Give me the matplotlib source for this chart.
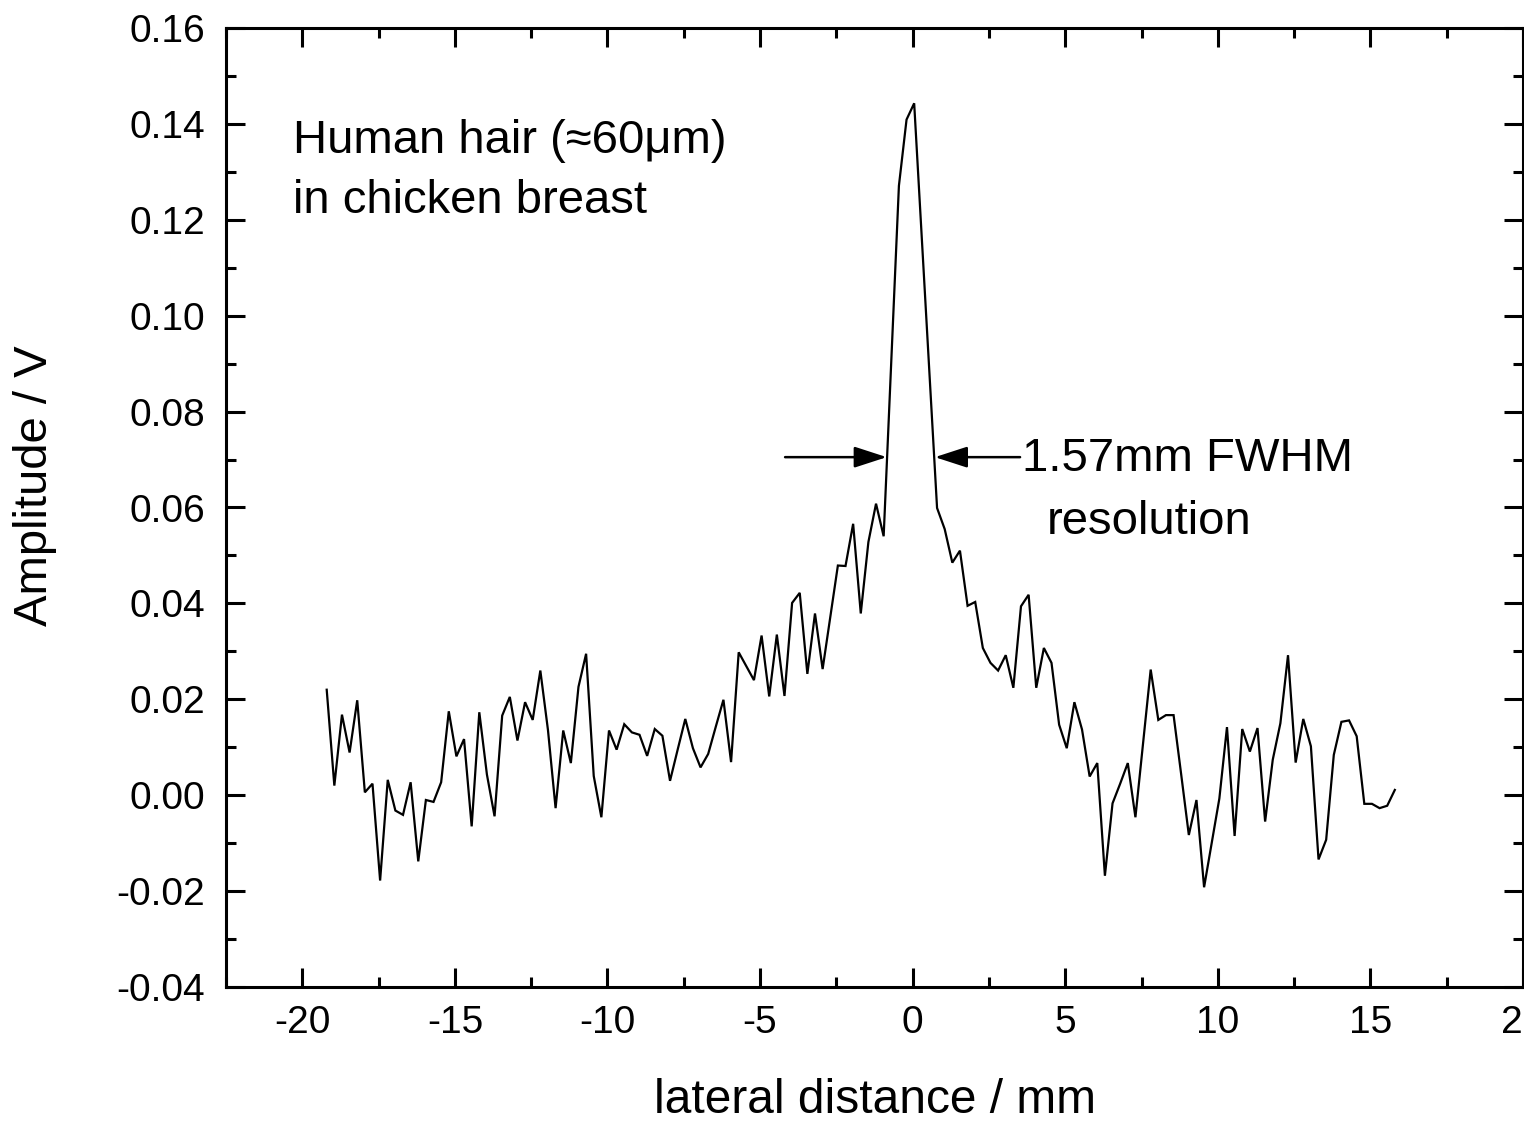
import numpy as np
import matplotlib
matplotlib.use("Agg")
import matplotlib.pyplot as plt
from matplotlib.ticker import MultipleLocator
from matplotlib.patches import Rectangle

plt.rcParams['font.family'] = ['Liberation Sans', 'DejaVu Sans']

# ---- data ----
x_start = -19.2
x_step = 0.25
amplitude = [
    0.0220, 0.0020, 0.0168, 0.0089, 0.0198, 0.0006, 0.0024, -0.0178, 0.0032, -0.0032,
    -0.0041, 0.0027, -0.0138, -0.0010, -0.0014, 0.0027, 0.0175, 0.0081, 0.0117, -0.0065,
    0.0173, 0.0043, -0.0044, 0.0166, 0.0205, 0.0114, 0.0194, 0.0157, 0.0260, 0.0136,
    -0.0027, 0.0135, 0.0067, 0.0226, 0.0295, 0.0040, -0.0046, 0.0135, 0.0095, 0.0148,
    0.0131, 0.0126, 0.0082, 0.0138, 0.0124, 0.0030, 0.0095, 0.0159, 0.0098, 0.0058,
    0.0086, 0.0143, 0.0199, 0.0069, 0.0298, 0.0269, 0.0240, 0.0333, 0.0206, 0.0335,
    0.0207, 0.0401, 0.0422, 0.0253, 0.0379, 0.0263, 0.0371, 0.0479, 0.0478, 0.0566,
    0.0379, 0.0528, 0.0608, 0.0540, 0.0905, 0.1271, 0.1409, 0.1443, 0.1162, 0.0881,
    0.0599, 0.0555, 0.0485, 0.0510, 0.0395, 0.0403, 0.0307, 0.0276, 0.0260, 0.0292,
    0.0224, 0.0394, 0.0418, 0.0224, 0.0307, 0.0276, 0.0147, 0.0098, 0.0194, 0.0137,
    0.0039, 0.0067, -0.0168, -0.0017, 0.0024, 0.0067, -0.0046, 0.0108, 0.0262, 0.0157,
    0.0167, 0.0167, 0.0043, -0.0083, -0.0010, -0.0192, -0.0100, -0.0007, 0.0142, -0.0085,
    0.0138, 0.0091, 0.0140, -0.0055, 0.0074, 0.0150, 0.0292, 0.0068, 0.0159, 0.0102,
    -0.0134, -0.0093, 0.0084, 0.0153, 0.0156, 0.0123, -0.0018, -0.0018, -0.0027, -0.0022,
    0.0011,
]
x_values = x_start + x_step * np.arange(len(amplitude))

x_ticks = [-20, -15, -10, -5, 0, 5, 10, 15, 20]
x_tick_labels = ['-20', '-15', '-10', '-5', '0', '5', '10', '15', '20']
y_ticks = [-0.04, -0.02, 0.00, 0.02, 0.04, 0.06, 0.08, 0.10, 0.12, 0.14, 0.16]
y_tick_labels = ['-0.04', '-0.02', '0.00', '0.02', '0.04', '0.06', '0.08',
                 '0.10', '0.12', '0.14', '0.16']

x_label = 'lateral distance / mm'
y_label = 'Amplitude / V'
sample_text = ['Human hair (\u224860\u03bcm)', 'in chicken breast']
fwhm_text = ['1.57mm FWHM', 'resolution']
fwhm_left = -0.85
fwhm_right = 0.73
fwhm_level = 0.0705

# ---- figure ----
W, H = 1536, 1125
fig = plt.figure(figsize=(W / 100, H / 100), dpi=100)
ax = fig.add_axes([226 / W, 1 - 987 / H, (1523 - 226) / W, (987 - 28) / H])

ax.plot(x_values, amplitude, color='black', lw=1.6, solid_joinstyle='miter')

ax.set_xlim(-22.5, 20)
ax.set_ylim(-0.04, 0.16)
ax.set_xticks(x_ticks)
ax.set_xticklabels(x_tick_labels)
ax.set_yticks(y_ticks)
ax.set_yticklabels(y_tick_labels)
ax.xaxis.set_minor_locator(MultipleLocator(2.5))
ax.yaxis.set_minor_locator(MultipleLocator(0.01))
ax.tick_params(which='both', direction='in', top=True, right=True, width=2.2,
               labelsize=28)
ax.tick_params(which='major', length=14)
ax.tick_params(which='minor', length=7)
ax.tick_params(axis='x', which='major', pad=13)
ax.tick_params(axis='y', which='major', pad=15)
for sp in ax.spines.values():
    sp.set_linewidth(2.2)

ax.set_xlabel(x_label, fontsize=34.5, va='center')
ax.xaxis.set_label_coords(0.5, -0.118)
ax.set_ylabel(y_label, fontsize=34, va='center')
ax.yaxis.set_label_coords(-0.147, 0.523)

# sample description
ax.text(-20.30, 0.1339, sample_text[0], fontsize=34, ha='left', va='baseline')
ax.text(-20.30, 0.1214, sample_text[1], fontsize=34, ha='left', va='baseline')

# FWHM arrows
arrow_kw = dict(arrowstyle='-|>,head_length=0.8,head_width=0.26', mutation_scale=25,
                lw=1.8, color='black', shrinkA=0, shrinkB=0)
ax.annotate('', xy=(fwhm_left, fwhm_level), xytext=(-4.18, fwhm_level), arrowprops=arrow_kw)
ax.annotate('', xy=(fwhm_right, fwhm_level), xytext=(3.52, fwhm_level), arrowprops=arrow_kw)
ax.text(3.58, 0.0676, fwhm_text[0], fontsize=34, ha='left', va='baseline')
ax.text(4.40, 0.0545, fwhm_text[1], fontsize=34, ha='left', va='baseline')

# the reference image is cropped at its right edge (the "20" label shows only "2")
fig.patches.append(Rectangle((1523.5 / W, 0), 1, 1, transform=fig.transFigure,
                             facecolor='white', edgecolor='none', zorder=100))

fig.savefig('out.png', dpi=100)
